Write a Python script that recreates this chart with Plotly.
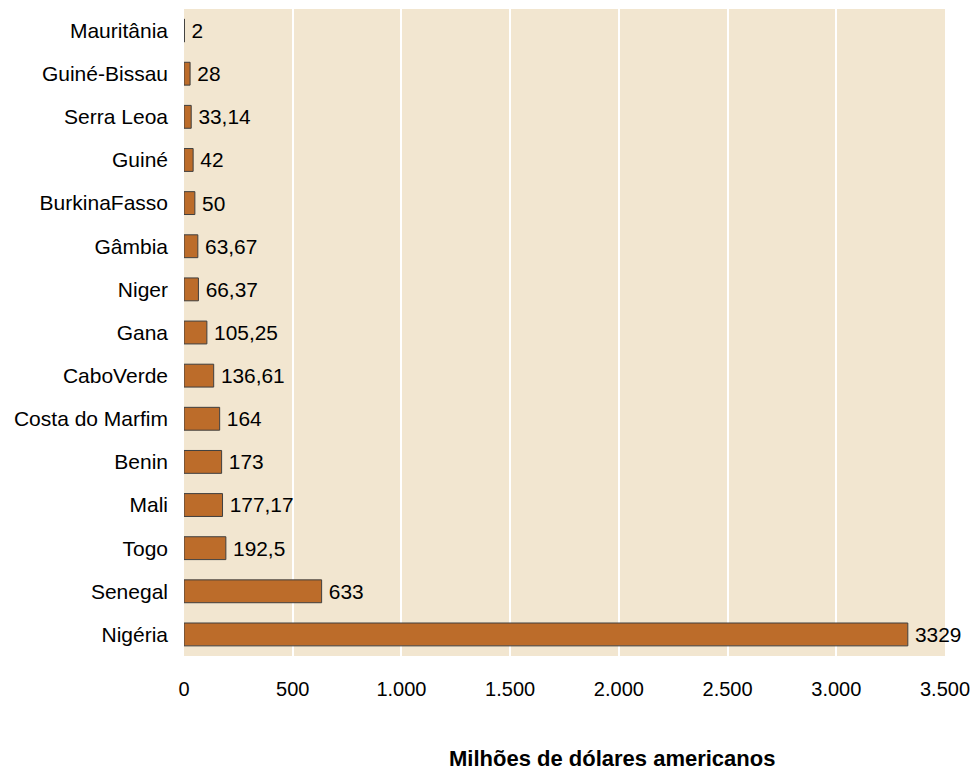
import plotly.graph_objects as go

countries = ["Mauritânia", "Guiné-Bissau", "Serra Leoa", "Guiné", "BurkinaFasso", "Gâmbia",
             "Niger", "Gana", "CaboVerde", "Costa do Marfim", "Benin", "Mali", "Togo",
             "Senegal", "Nigéria"]
values = [2, 28, 33.14, 42, 50, 63.67, 66.37, 105.25, 136.61, 164, 173, 177.17, 192.5, 633, 3329]
value_labels = ["2", "28", "33,14", "42", "50", "63,67", "66,37", "105,25", "136,61", "164",
                "173", "177,17", "192,5", "633", "3329"]
tick_vals = [0, 500, 1000, 1500, 2000, 2500, 3000, 3500]
tick_text = ["0", "500", "1.000", "1.500", "2.000", "2.500", "3.000", "3.500"]

FONT = "Liberation Sans, Arial, sans-serif"

# page has an 8px body margin, so figure is sized to fit the window
W, H = 970, 763
L, R, T, B = 176, 33, 1, 115

fig = go.Figure(go.Bar(
    y=countries, x=values, orientation="h",
    text=["\u2009" + s for s in value_labels], textposition="outside", cliponaxis=False,
    textfont=dict(family=FONT, size=21, color="#000000"),
    marker=dict(color="#BC6C2A", line=dict(color="#3F3F3F", width=1)),
    width=0.53,
))

plot_w = W - L - R
plot_h = H - T - B

fig.update_layout(
    width=W, height=H,
    margin=dict(l=L, r=R, t=T, b=B, pad=0),
    paper_bgcolor="#FFFFFF", plot_bgcolor="#F2E6D0",
    font=dict(family=FONT, size=20, color="#000000"),
    showlegend=False,
    xaxis=dict(range=[0, 3500], tickvals=tick_vals, ticktext=tick_text,
               showgrid=True, gridcolor="#FFFFFF", gridwidth=2, zeroline=False,
               showline=False, ticks="", ticklabelstandoff=19,
               tickfont=dict(family=FONT, size=20)),
    yaxis=dict(categoryorder="array", categoryarray=countries[::-1],
               showgrid=False, ticks="", ticklabelstandoff=15, showline=False,
               tickfont=dict(family=FONT, size=21)),
    annotations=[dict(text="<b>Milhões de dólares americanos</b>",
                      x=(604 - L) / plot_w, y=-(750 - (H - B)) / plot_h,
                      xref="paper", yref="paper", showarrow=False,
                      xanchor="center", yanchor="middle",
                      font=dict(family=FONT, size=22, color="#000000"))],
)
fig.write_html("out.html")
